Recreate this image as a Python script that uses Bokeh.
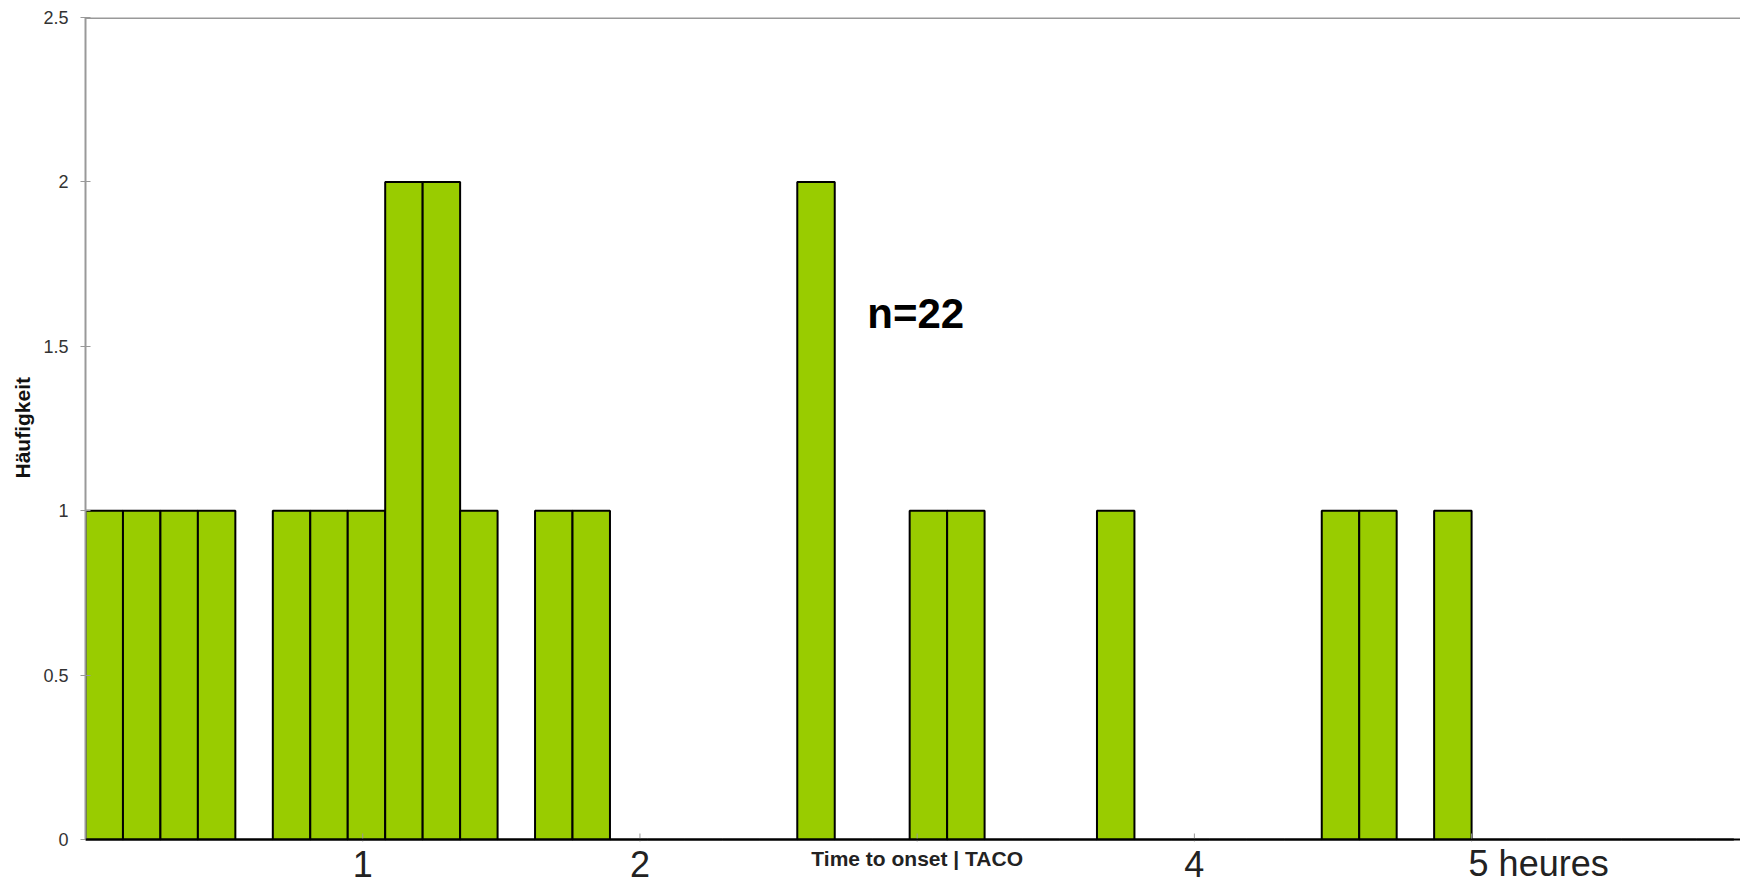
from bokeh.plotting import figure
from bokeh.models import Range1d, FixedTicker, Label, Span, ColumnDataSource, Title
from bokeh.core.properties import value
from bokeh.embed import file_html
from bokeh.resources import INLINE

# ---- data ----
bin_width_hours = 5 / 37
counts = [1, 1, 1, 1, 0, 1, 1, 1, 2, 2, 1, 0, 1, 1, 0, 0, 0, 0, 0, 2, 0, 0,
          1, 1, 0, 0, 0, 1, 0, 0, 0, 0, 0, 1, 1, 0, 1, 0, 0, 0, 0, 0, 0, 0]
x_tick_values = [1, 2, 3, 4, 5]
x_tick_labels = ["1", "2", "", "4", "5 heures"]
x_title = "Time to onset | TACO"
x_title_at = 3
y_tick_values = [0, 0.5, 1, 1.5, 2, 2.5]
y_tick_labels = ["0", "0.5", "1", "1.5", "2", "2.5"]
y_title = "Häufigkeit"
n_label = f"n={sum(counts)}"

FONT = "Liberation Sans"

# ---- layout (pixels) ----
W, H = 1740, 883
FRAME_LEFT, FRAME_TOP, ZERO_PX = 85, 17, 839
Y_TOP = 2.5
per_px = Y_TOP / (ZERO_PX - FRAME_TOP)          # data units per pixel (y)
y_bottom = -(H - ZERO_PX) * per_px               # frame reaches the bottom to hold x labels


def below(px):
    """data y for a point px pixels below the zero line"""
    return -px * per_px


lefts = [i * bin_width_hours for i in range(len(counts))]
rights = [(i + 1) * bin_width_hours for i in range(len(counts))]
src = ColumnDataSource(dict(left=lefts, right=rights, top=counts, bottom=[0] * len(counts)))

p = figure(width=W, height=H, x_range=Range1d(0, 5.97), y_range=Range1d(y_bottom, Y_TOP),
           output_backend="svg", toolbar_location=None,
           min_border_left=FRAME_LEFT, min_border_right=0, min_border_top=FRAME_TOP,
           min_border_bottom=0)
p.outline_line_color = None
p.background_fill_color = "white"
p.border_fill_color = "white"
p.xgrid.visible = False
p.ygrid.visible = False
p.xaxis.visible = False

p.quad(left="left", right="right", top="top", bottom="bottom", source=src,
       fill_color="#99CC00", line_color="black", line_width=2)

# x baseline, ticks and labels (inside the extended frame)
p.add_layout(Span(location=0, dimension="width", line_color="black", line_width=2))
p.segment(x0=x_tick_values, x1=x_tick_values,
          y0=[below(2)] * len(x_tick_values), y1=[below(-6)] * len(x_tick_values),
          line_color="#999999", line_width=1)

centered = [(v, t) for v, t in zip(x_tick_values, x_tick_labels) if t and " " not in t]
lefted = [(v, t) for v, t in zip(x_tick_values, x_tick_labels) if t and " " in t]
p.text(x=[v for v, _ in centered], y=[below(24)] * len(centered), text=[t for _, t in centered],
       text_font=value(FONT), text_font_size="36px", text_color="#222222",
       text_align="center", text_baseline="alphabetic")
p.text(x=[v for v, _ in lefted], y=[below(24)] * len(lefted), text=[t for _, t in lefted],
       x_offset=-3, text_font=value(FONT), text_font_size="36px", text_color="#222222",
       text_align="left", text_baseline="alphabetic")
p.text(x=[x_title_at], y=[below(19)], text=[x_title], text_font=value(FONT),
       text_font_size="21px", text_font_style="bold", text_color="#222222",
       text_align="center", text_baseline="alphabetic")

# y axis
p.yaxis.bounds = (0, Y_TOP)
p.yaxis.ticker = FixedTicker(ticks=y_tick_values)
p.yaxis.major_label_overrides = dict(zip(y_tick_values, y_tick_labels))
p.yaxis.axis_line_color = "#999999"
p.yaxis.axis_line_width = 2
p.yaxis.major_tick_line_color = "#999999"
p.yaxis.major_tick_in = 5
p.yaxis.major_tick_out = 5
p.yaxis.minor_tick_line_color = None
p.yaxis.major_label_text_font = FONT
p.yaxis.major_label_text_font_size = "18px"
p.yaxis.major_label_text_color = "#333333"
p.yaxis.major_label_standoff = 12

# y title as a left-side title, placed over the middle of the 0..2.5 span
p.add_layout(Title(text=y_title, align="left", offset=405,
                   text_font=FONT, text_font_size="21px", text_font_style="bold",
                   text_color="#111111", standoff=13), "left")

p.add_layout(Span(location=Y_TOP, dimension="width", line_color="#999999", line_width=3))

p.add_layout(Label(x=2.82, y=1.60, text=n_label, text_font=FONT, text_font_size="42px",
                   text_font_style="bold", text_color="black",
                   text_align="left", text_baseline="alphabetic"))

open("out.html", "w").write(file_html(p, INLINE))
